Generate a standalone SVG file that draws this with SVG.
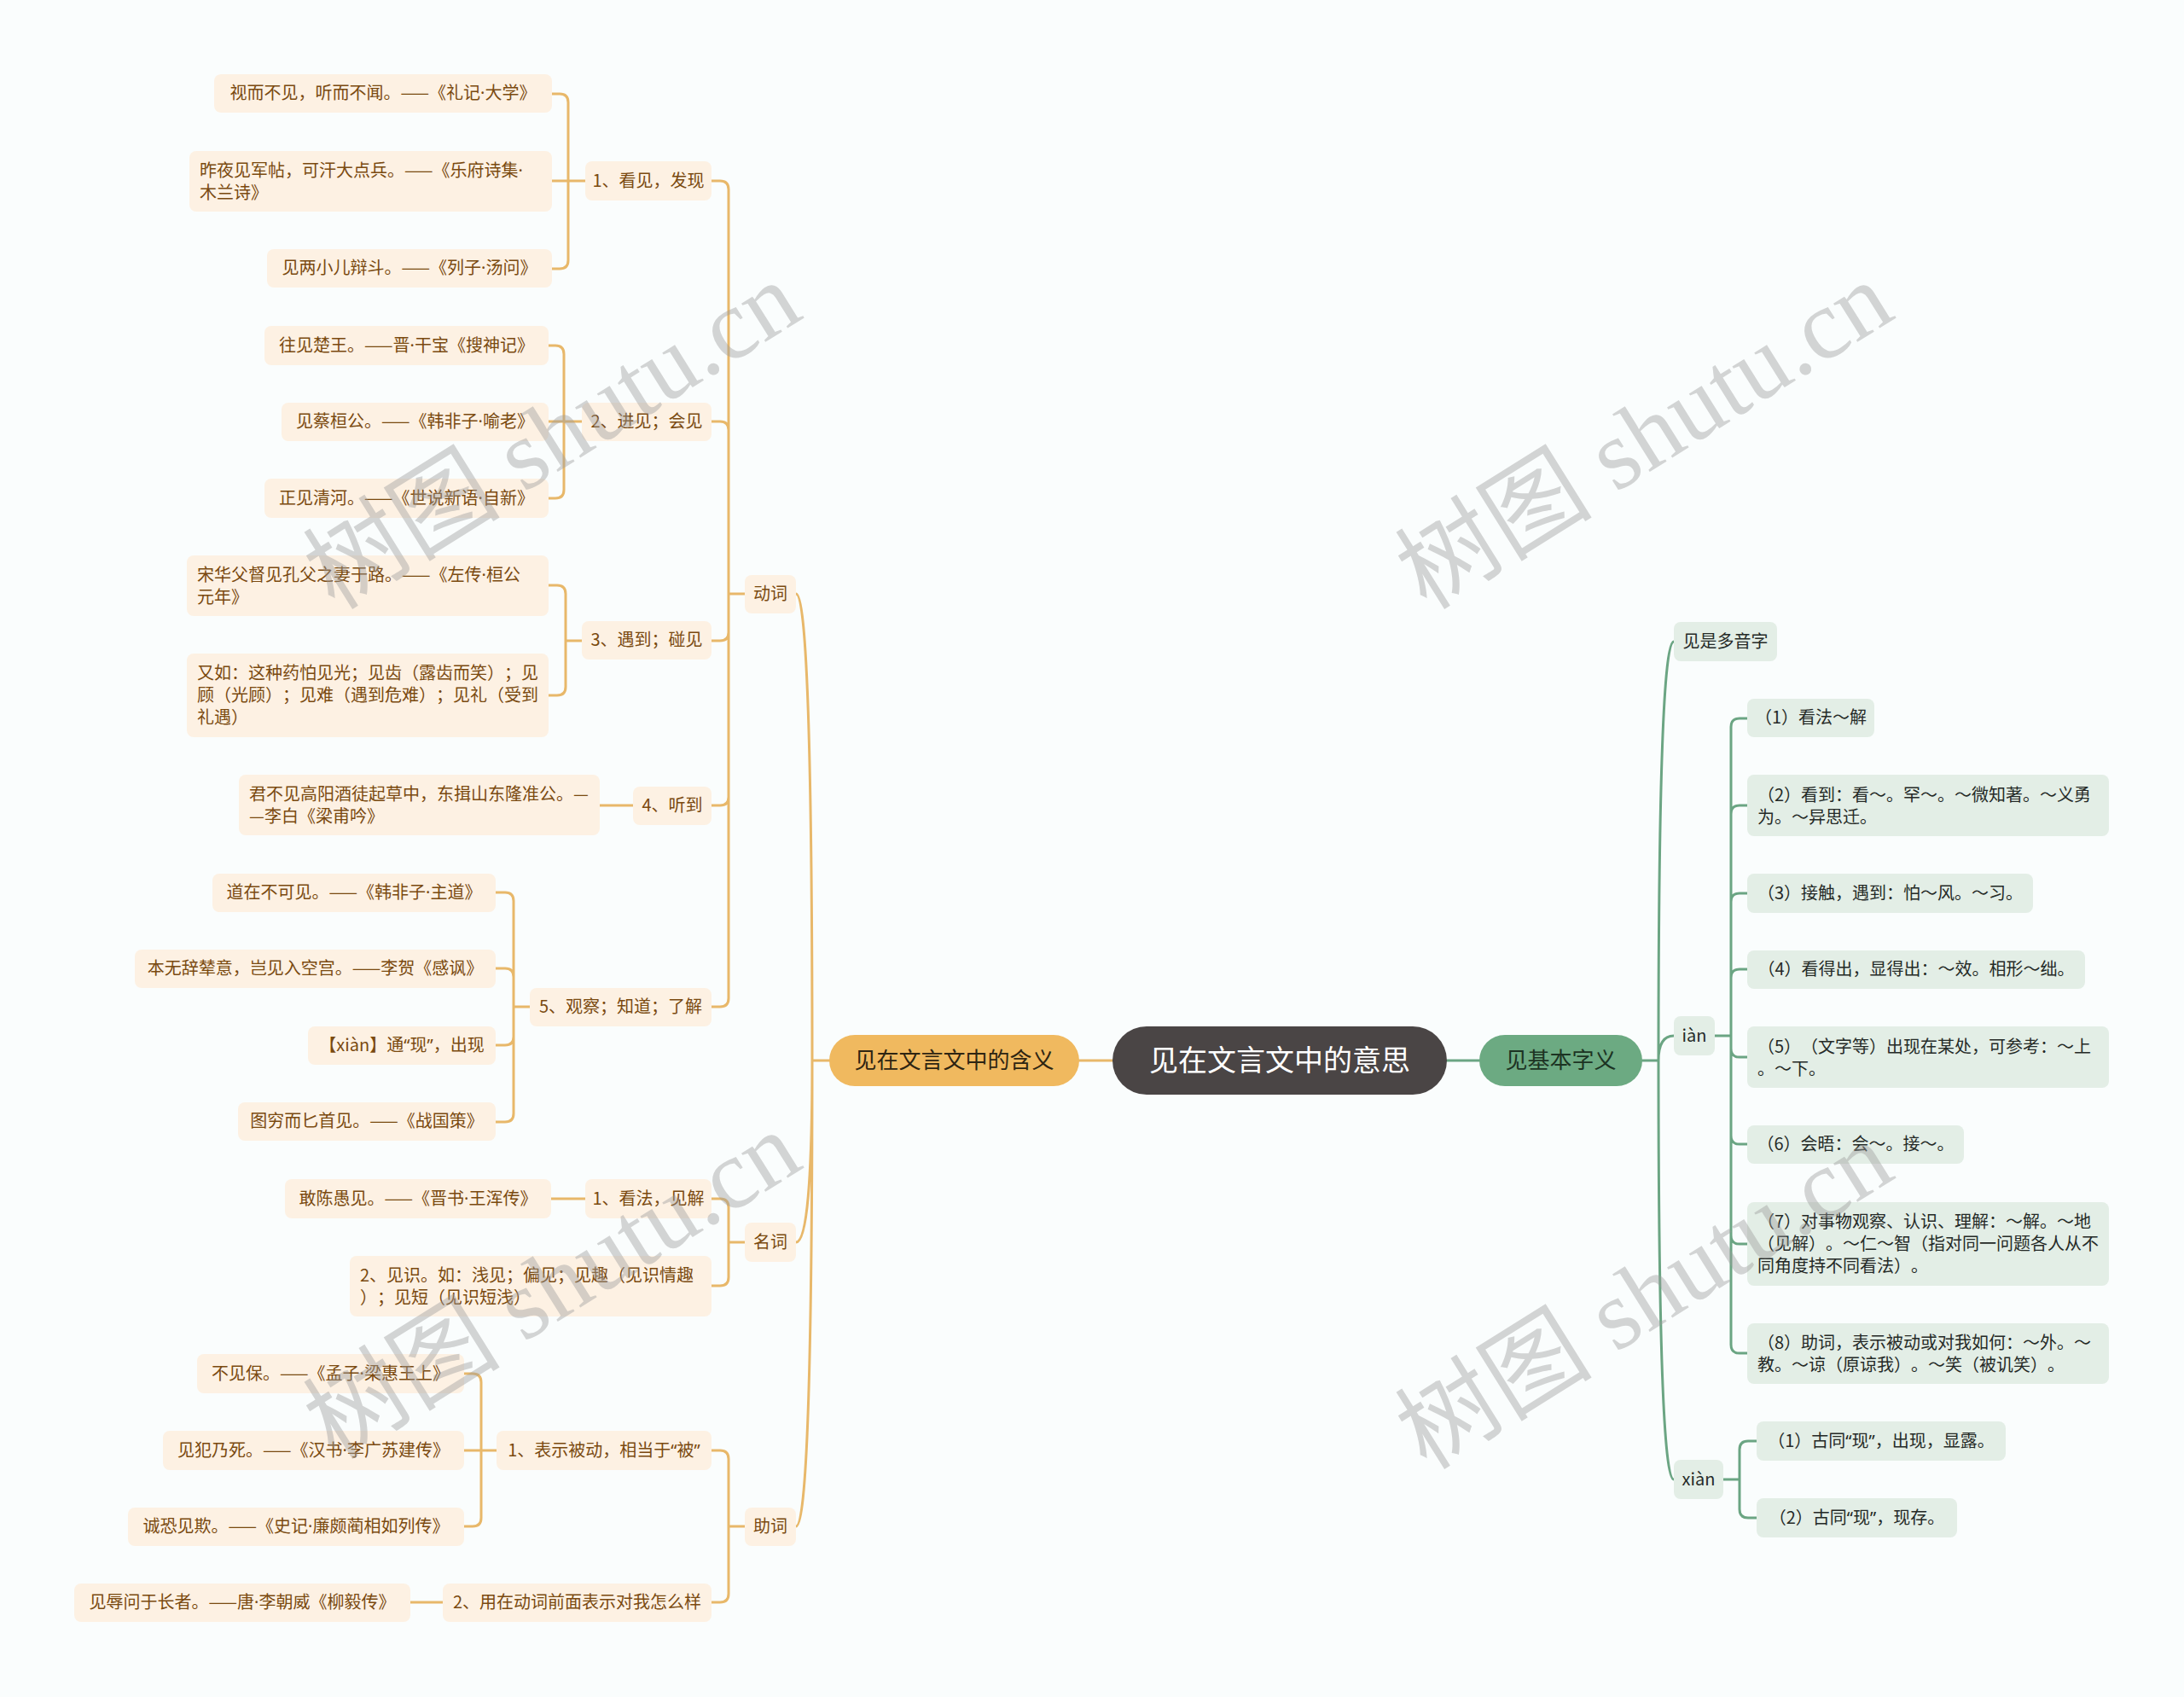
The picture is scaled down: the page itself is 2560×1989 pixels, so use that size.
<svg xmlns="http://www.w3.org/2000/svg" width="2560" height="1989" viewBox="0 0 2560 1989">
<style>
text{font-family:"Noto Sans CJK SC","Noto Sans",sans-serif;text-spacing-trim:space-all;}
.p{font-family:"Noto Sans",sans-serif;}
.l rect{fill:#fdf1e3;}
.l text{fill:#7a4a10;font-size:20px;}
.r rect{fill:#e3eee6;}
.r text{fill:#252a27;font-size:20px;}
.m{text-anchor:middle;}
.co{fill:none;stroke:#e8b86a;stroke-width:3;stroke-linecap:round;}
.cg{fill:none;stroke:#6ba583;stroke-width:3;stroke-linecap:round;}
.wm{font-family:"Liberation Serif","Noto Sans CJK SC",serif;font-size:116px;fill:#9c9c9c;opacity:0.42;text-anchor:middle;}
</style>
<rect x="0" y="0" width="2560" height="1989" fill="#fafdfd"/>
<g id="connectors">
<path class="co" d="M1265 1243 H1304"/>
<path class="cg" d="M1696 1243 H1734"/>
<path class="co" d="M972 1243 H952 M952 1243 Q952 696 933 696 M952 1243 Q952 1456 933 1456 M952 1243 Q952 1789 933 1789"/>
<path class="co" d="M873 696 H854 M854 696 V222 Q854 212 844 212 H834 M854 696 V504 Q854 494 844 494 H834 M854 696 V741 Q854 751 844 751 H834 M854 696 V934 Q854 944 844 944 H834 M854 696 V1170 Q854 1180 844 1180 H834"/>
<path class="co" d="M686 212 H647 M666 212 V120 Q666 110 656 110 H647 M666 212 V305 Q666 315 656 315 H647"/>
<path class="co" d="M682 494 H643 M661 494 V415 Q661 405 651 405 H643 M661 494 V574 Q661 584 651 584 H643"/>
<path class="co" d="M682 751 H663 M663 751 V696 Q663 686 653 686 H643 M663 751 V805 Q663 815 653 815 H643"/>
<path class="co" d="M742 944 H703"/>
<path class="co" d="M621 1180 H602 M602 1180 V1056 Q602 1046 592 1046 H581 M602 1180 V1145 Q602 1135 592 1135 H581 M602 1180 V1215 Q602 1225 592 1225 H581 M602 1180 V1305 Q602 1315 592 1315 H581"/>
<path class="co" d="M873 1456 H854 M854 1456 V1415 Q854 1405 844 1405 H834 M854 1456 V1497 Q854 1507 844 1507 H834"/>
<path class="co" d="M686 1405 H646"/>
<path class="co" d="M873 1789 H854 M854 1789 V1710 Q854 1700 844 1700 H834 M854 1789 V1868 Q854 1878 844 1878 H834"/>
<path class="co" d="M582 1700 H544 M564 1700 V1620 Q564 1610 554 1610 H544 M564 1700 V1779 Q564 1789 554 1789 H544"/>
<path class="co" d="M519 1878 H481"/>
<path class="cg" d="M1925 1243 H1944 M1944 1243 Q1944 752 1962 752 M1944 1243 Q1944 1214 1962 1214 M1944 1243 Q1944 1734 1962 1734"/>
<path class="cg" d="M2010 1214 H2029 M2029 1214 V852 Q2029 842 2039 842 H2048 M2029 1214 V954 Q2029 944 2039 944 H2048 M2029 1214 V1057 Q2029 1047 2039 1047 H2048 M2029 1214 V1146 Q2029 1136 2039 1136 H2048 M2029 1214 V1229 Q2029 1239 2039 1239 H2048 M2029 1214 V1331 Q2029 1341 2039 1341 H2048 M2029 1214 V1448 Q2029 1458 2039 1458 H2048 M2029 1214 V1576 Q2029 1586 2039 1586 H2048"/>
<path class="cg" d="M2020 1734 H2039 M2039 1734 V1699 Q2039 1689 2049 1689 H2059 M2039 1734 V1769 Q2039 1779 2049 1779 H2059"/>
</g>
<g id="root"><rect x="1304" y="1203" width="392" height="80" rx="40" fill="#4a4545"/><text x="1500" y="1255" class="m" font-size="34" fill="#ffffff">见在文言文中的意思</text></g>
<g id="main-left"><rect x="972" y="1213" width="293" height="60" rx="30" fill="#f0b95f"/><text x="1118.5" y="1252" class="m" font-size="26" fill="#2e2512">见在文言文中的含义</text></g>
<g id="main-right"><rect x="1734" y="1213" width="191" height="60" rx="30" fill="#6caa82"/><text x="1829.5" y="1252" class="m" font-size="26" fill="#1c3323">见基本字义</text></g>

<g id="n-dongci" class="l"><rect x="873" y="674" width="60" height="45" rx="8"/><text x="903" y="703" class="m">动词</text></g>
<g id="n-mingci" class="l"><rect x="873" y="1433" width="60" height="46" rx="8"/><text x="903" y="1463" class="m">名词</text></g>
<g id="n-zhuci" class="l"><rect x="873" y="1767" width="60" height="45" rx="8"/><text x="903" y="1796" class="m">助词</text></g>

<g id="n-d1" class="l"><rect x="686" y="189" width="148" height="46" rx="8"/><text x="760" y="219" class="m">1、看见，发现</text></g>
<g id="n-d1a" class="l"><rect x="251" y="87" width="396" height="45" rx="8"/><text x="449" y="116" class="m">视而不见，听而不闻。——《礼记<tspan class="p">·</tspan>大学》</text></g>
<g id="n-d1b" class="l"><rect x="222" y="177" width="425" height="71" rx="8"/><text x="234" y="207">昨夜见军帖，可汗大点兵。——《乐府诗集<tspan class="p">·</tspan></text><text x="234" y="233">木兰诗》</text></g>
<g id="n-d1c" class="l"><rect x="313" y="292" width="334" height="45" rx="8"/><text x="480" y="321" class="m">见两小儿辩斗。——《列子<tspan class="p">·</tspan>汤问》</text></g>

<g id="n-d2" class="l"><rect x="682" y="472" width="152" height="45" rx="8"/><text x="758" y="501" class="m">2、进见；会见</text></g>
<g id="n-d2a" class="l"><rect x="310" y="382" width="333" height="46" rx="8"/><text x="476.5" y="412" class="m">往见楚王。——晋<tspan class="p">·</tspan>干宝《搜神记》</text></g>
<g id="n-d2b" class="l"><rect x="330" y="472" width="313" height="45" rx="8"/><text x="486.5" y="501" class="m">见蔡桓公。——《韩非子<tspan class="p">·</tspan>喻老》</text></g>
<g id="n-d2c" class="l"><rect x="310" y="561" width="333" height="46" rx="8"/><text x="476.5" y="591" class="m">正见清河。——《世说新语<tspan class="p">·</tspan>自新》</text></g>

<g id="n-d3" class="l"><rect x="682" y="728" width="152" height="45" rx="8"/><text x="758" y="757" class="m">3、遇到；碰见</text></g>
<g id="n-d3a" class="l"><rect x="219" y="651" width="424" height="71" rx="8"/><text x="231" y="681">宋华父督见孔父之妻于路。——《左传<tspan class="p">·</tspan>桓公</text><text x="231" y="707">元年》</text></g>
<g id="n-d3b" class="l"><rect x="219" y="766" width="424" height="98" rx="8"/><text x="231" y="796">又如：这种药怕见光；见齿（露齿而笑）；见</text><text x="231" y="822">顾（光顾）；见难（遇到危难）；见礼（受到</text><text x="231" y="848">礼遇）</text></g>

<g id="n-d4" class="l"><rect x="742" y="922" width="92" height="45" rx="8"/><text x="788" y="951" class="m">4、听到</text></g>
<g id="n-d4a" class="l"><rect x="280" y="908" width="423" height="71" rx="8"/><text x="292" y="938">君不见高阳酒徒起草中，东揖山东隆准公。—</text><text x="292" y="964">—李白《梁甫吟》</text></g>

<g id="n-d5" class="l"><rect x="621" y="1158" width="213" height="45" rx="8"/><text x="727.5" y="1187" class="m">5、观察；知道；了解</text></g>
<g id="n-d5a" class="l"><rect x="249" y="1024" width="332" height="45" rx="8"/><text x="415" y="1053" class="m">道在不可见。——《韩非子<tspan class="p">·</tspan>主道》</text></g>
<g id="n-d5b" class="l"><rect x="158" y="1113" width="423" height="45" rx="8"/><text x="369.5" y="1142" class="m">本无辞辇意，岂见入空宫。——李贺《感讽》</text></g>
<g id="n-d5c" class="l"><rect x="361" y="1203" width="220" height="45" rx="8"/><text x="471" y="1232" class="m">【xiàn】通<tspan class="p">“</tspan>现<tspan class="p">”</tspan>，出现</text></g>
<g id="n-d5d" class="l"><rect x="279" y="1292" width="302" height="45" rx="8"/><text x="430" y="1321" class="m">图穷而匕首见。——《战国策》</text></g>

<g id="n-m1" class="l"><rect x="686" y="1382" width="148" height="46" rx="8"/><text x="760" y="1412" class="m">1、看法，见解</text></g>
<g id="n-m1a" class="l"><rect x="334" y="1382" width="312" height="46" rx="8"/><text x="490" y="1412" class="m">敢陈愚见。——《晋书<tspan class="p">·</tspan>王浑传》</text></g>
<g id="n-m2" class="l"><rect x="410" y="1472" width="424" height="71" rx="8"/><text x="422" y="1502">2、见识。如：浅见；偏见；见趣（见识情趣</text><text x="422" y="1528">）；见短（见识短浅）</text></g>

<g id="n-z1" class="l"><rect x="582" y="1677" width="252" height="46" rx="8"/><text x="708" y="1707" class="m">1、表示被动，相当于<tspan class="p">“</tspan>被<tspan class="p">”</tspan></text></g>
<g id="n-z1a" class="l"><rect x="231" y="1587" width="313" height="46" rx="8"/><text x="387.5" y="1617" class="m">不见保。——《孟子<tspan class="p">·</tspan>梁惠王上》</text></g>
<g id="n-z1b" class="l"><rect x="191" y="1677" width="353" height="46" rx="8"/><text x="367.5" y="1707" class="m">见犯乃死。——《汉书<tspan class="p">·</tspan>李广苏建传》</text></g>
<g id="n-z1c" class="l"><rect x="150" y="1767" width="394" height="45" rx="8"/><text x="347" y="1796" class="m">诚恐见欺。——《史记<tspan class="p">·</tspan>廉颇蔺相如列传》</text></g>
<g id="n-z2" class="l"><rect x="519" y="1856" width="315" height="45" rx="8"/><text x="676.5" y="1885" class="m">2、用在动词前面表示对我怎么样</text></g>
<g id="n-z2a" class="l"><rect x="87" y="1856" width="394" height="45" rx="8"/><text x="284" y="1885" class="m">见辱问于长者。——唐<tspan class="p">·</tspan>李朝威《柳毅传》</text></g>

<g id="n-r1" class="r"><rect x="1962" y="729" width="121" height="46" rx="8"/><text x="2022.5" y="759" class="m">见是多音字</text></g>
<g id="n-ian" class="r"><rect x="1962" y="1191" width="48" height="46" rx="8"/><text x="1986" y="1221" class="m">iàn</text></g>
<g id="n-xian" class="r"><rect x="1962" y="1711" width="58" height="46" rx="8"/><text x="1991" y="1741" class="m">xiàn</text></g>

<g id="n-i1" class="r"><rect x="2048" y="819" width="149" height="45" rx="8"/><text x="2122.5" y="848" class="m">（1）看法～解</text></g>
<g id="n-i2" class="r"><rect x="2048" y="908" width="424" height="72" rx="8"/><text x="2060" y="939">（2）看到：看～。罕～。～微知著。～义勇</text><text x="2060" y="965">为。～异思迁。</text></g>
<g id="n-i3" class="r"><rect x="2048" y="1024" width="335" height="46" rx="8"/><text x="2215.5" y="1054" class="m">（3）接触，遇到：怕～风。～习。</text></g>
<g id="n-i4" class="r"><rect x="2048" y="1114" width="396" height="45" rx="8"/><text x="2246" y="1143" class="m">（4）看得出，显得出：～效。相形～绌。</text></g>
<g id="n-i5" class="r"><rect x="2048" y="1203" width="424" height="72" rx="8"/><text x="2060" y="1234">（5）（文字等）出现在某处，可参考：～上</text><text x="2060" y="1260">。～下。</text></g>
<g id="n-i6" class="r"><rect x="2048" y="1319" width="254" height="45" rx="8"/><text x="2175" y="1348" class="m">（6）会晤：会～。接～。</text></g>
<g id="n-i7" class="r"><rect x="2048" y="1409" width="424" height="98" rx="8"/><text x="2060" y="1439">（7）对事物观察、认识、理解：～解。～地</text><text x="2060" y="1465">（见解）。～仁～智（指对同一问题各人从不</text><text x="2060" y="1491">同角度持不同看法）。</text></g>
<g id="n-i8" class="r"><rect x="2048" y="1551" width="424" height="71" rx="8"/><text x="2060" y="1581">（8）助词，表示被动或对我如何：～外。～</text><text x="2060" y="1607">教。～谅（原谅我）。～笑（被讥笑）。</text></g>

<g id="n-x1" class="r"><rect x="2059" y="1666" width="292" height="46" rx="8"/><text x="2205" y="1696" class="m">（1）古同<tspan class="p">“</tspan>现<tspan class="p">”</tspan>，出现，显露。</text></g>
<g id="n-x2" class="r"><rect x="2059" y="1756" width="235" height="46" rx="8"/><text x="2176.5" y="1786" class="m">（2）古同<tspan class="p">“</tspan>现<tspan class="p">”</tspan>，现存。</text></g>

<g id="watermarks">
<text class="wm" transform="translate(647 510) rotate(-32)" y="40">树图 shutu.cn</text>
<text class="wm" transform="translate(1927 510) rotate(-32)" y="40">树图 shutu.cn</text>
<text class="wm" transform="translate(647 1506) rotate(-32)" y="40">树图 shutu.cn</text>
<text class="wm" transform="translate(1927 1518) rotate(-32)" y="40">树图 shutu.cn</text>
</g>
</svg>
